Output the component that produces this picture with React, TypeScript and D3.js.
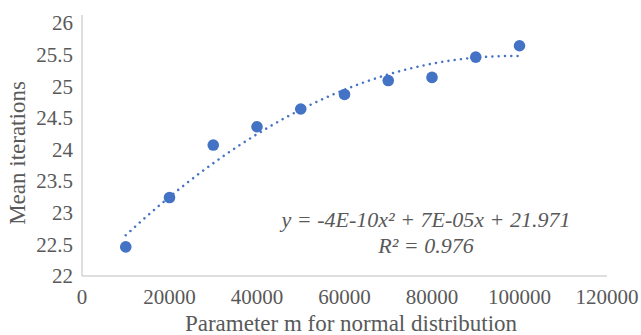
import React from "react";
import * as d3 from "d3";

const xValues = [10000, 20000, 30000, 40000, 50000, 60000, 70000, 80000, 90000, 100000];
const yValues = [22.46, 23.24, 24.07, 24.36, 24.64, 24.87, 25.09, 25.14, 25.46, 25.64];
const xTicks = [0, 20000, 40000, 60000, 80000, 100000, 120000];
const yTicks = [22, 22.5, 23, 23.5, 24, 24.5, 25, 25.5, 26];
const equationText = "y = -4E-10x² + 7E-05x + 21.971";
const r2Text = "R² = 0.976";
const xTitle = "Parameter m for normal distribution";
const yTitle = "Mean iterations";

const W = 641;
const H = 335;
const left = 82;
const right = 607;
const top = 23;
const bottom = 276;
const font = "Liberation Serif, Times New Roman, serif";
const textColor = "#595959";
const axisColor = "#bfbfbf";
const dotColor = "#4472C4";

// least-squares quadratic fit (Excel polynomial trendline, order 2)
function fitQuadratic(xs: number[], ys: number[]) {
  const s = 1e5;
  const xn = xs.map((x) => x / s);
  const n = xs.length;
  const S = [0, 0, 0, 0, 0];
  const T = [0, 0, 0];
  for (let i = 0; i < n; i++) {
    for (let k = 0; k < 5; k++) S[k] += Math.pow(xn[i], k);
    for (let k = 0; k < 3; k++) T[k] += ys[i] * Math.pow(xn[i], k);
  }
  const A = [
    [S[0], S[1], S[2], T[0]],
    [S[1], S[2], S[3], T[1]],
    [S[2], S[3], S[4], T[2]],
  ];
  for (let i = 0; i < 3; i++) {
    for (let j = i + 1; j < 3; j++) {
      const f = A[j][i] / A[i][i];
      for (let k = i; k < 4; k++) A[j][k] -= f * A[i][k];
    }
  }
  const c = [0, 0, 0];
  for (let i = 2; i >= 0; i--) {
    let v = A[i][3];
    for (let k = i + 1; k < 3; k++) v -= A[i][k] * c[k];
    c[i] = v / A[i][i];
  }
  return (x: number) => c[0] + c[1] * (x / s) + c[2] * (x / s) * (x / s);
}

export default function App() {
  const x = d3.scaleLinear().domain([0, 120000]).range([left, right]);
  const y = d3.scaleLinear().domain([22, 26]).range([bottom, top]);
  const f = fitQuadratic(xValues, yValues);
  const x0 = xValues[0];
  const x1 = xValues[xValues.length - 1];
  const trendX = d3.range(0, 101).map((i) => x0 + (i / 100) * (x1 - x0));
  const line = d3
    .line<number>()
    .x((d) => x(d))
    .y((d) => y(f(d)));

  return (
    <svg
      width={W}
      height={H}
      style={{ position: "absolute", left: 0, top: 0, background: "#fff" }}
    >
      <rect width={W} height={H} fill="#fff" />
      <line x1={left} x2={left} y1={top - 8} y2={bottom} stroke={axisColor} strokeWidth={1} />
      <line x1={left} x2={right} y1={bottom} y2={bottom} stroke={axisColor} strokeWidth={1} />
      {yTicks.map((t) => (
        <text
          key={t}
          x={73}
          y={y(t)}
          dy="0.35em"
          textAnchor="end"
          style={{ fontFamily: font, fontSize: 21 }}
          fill={textColor}
        >
          {t}
        </text>
      ))}
      {xTicks.map((t) => (
        <text
          key={t}
          x={x(t)}
          y={304}
          textAnchor="middle"
          style={{ fontFamily: font, fontSize: 21 }}
          fill={textColor}
        >
          {t}
        </text>
      ))}
      <text
        x={351}
        y={331}
        textAnchor="middle"
        style={{ fontFamily: font, fontSize: 23 }}
        fill={textColor}
      >
        {xTitle}
      </text>
      <text
        transform={`translate(25, 153) rotate(-90)`}
        textAnchor="middle"
        style={{ fontFamily: font, fontSize: 23 }}
        fill={textColor}
      >
        {yTitle}
      </text>
      <path
        d={line(trendX) || ""}
        fill="none"
        stroke={dotColor}
        strokeWidth={2.5}
        strokeDasharray="0.01 6.3"
        strokeLinecap="round"
      />
      {xValues.map((xv, i) => (
        <circle key={xv} cx={x(xv)} cy={y(yValues[i])} r={5.8} fill={dotColor} />
      ))}
      <text
        x={426}
        y={227}
        textAnchor="middle"
        style={{ fontFamily: font, fontSize: 22, fontStyle: "italic" }}
        fill={textColor}
      >
        {equationText}
      </text>
      <text
        x={426}
        y={253}
        textAnchor="middle"
        style={{ fontFamily: font, fontSize: 22, fontStyle: "italic" }}
        fill={textColor}
      >
        {r2Text}
      </text>
    </svg>
  );
}
